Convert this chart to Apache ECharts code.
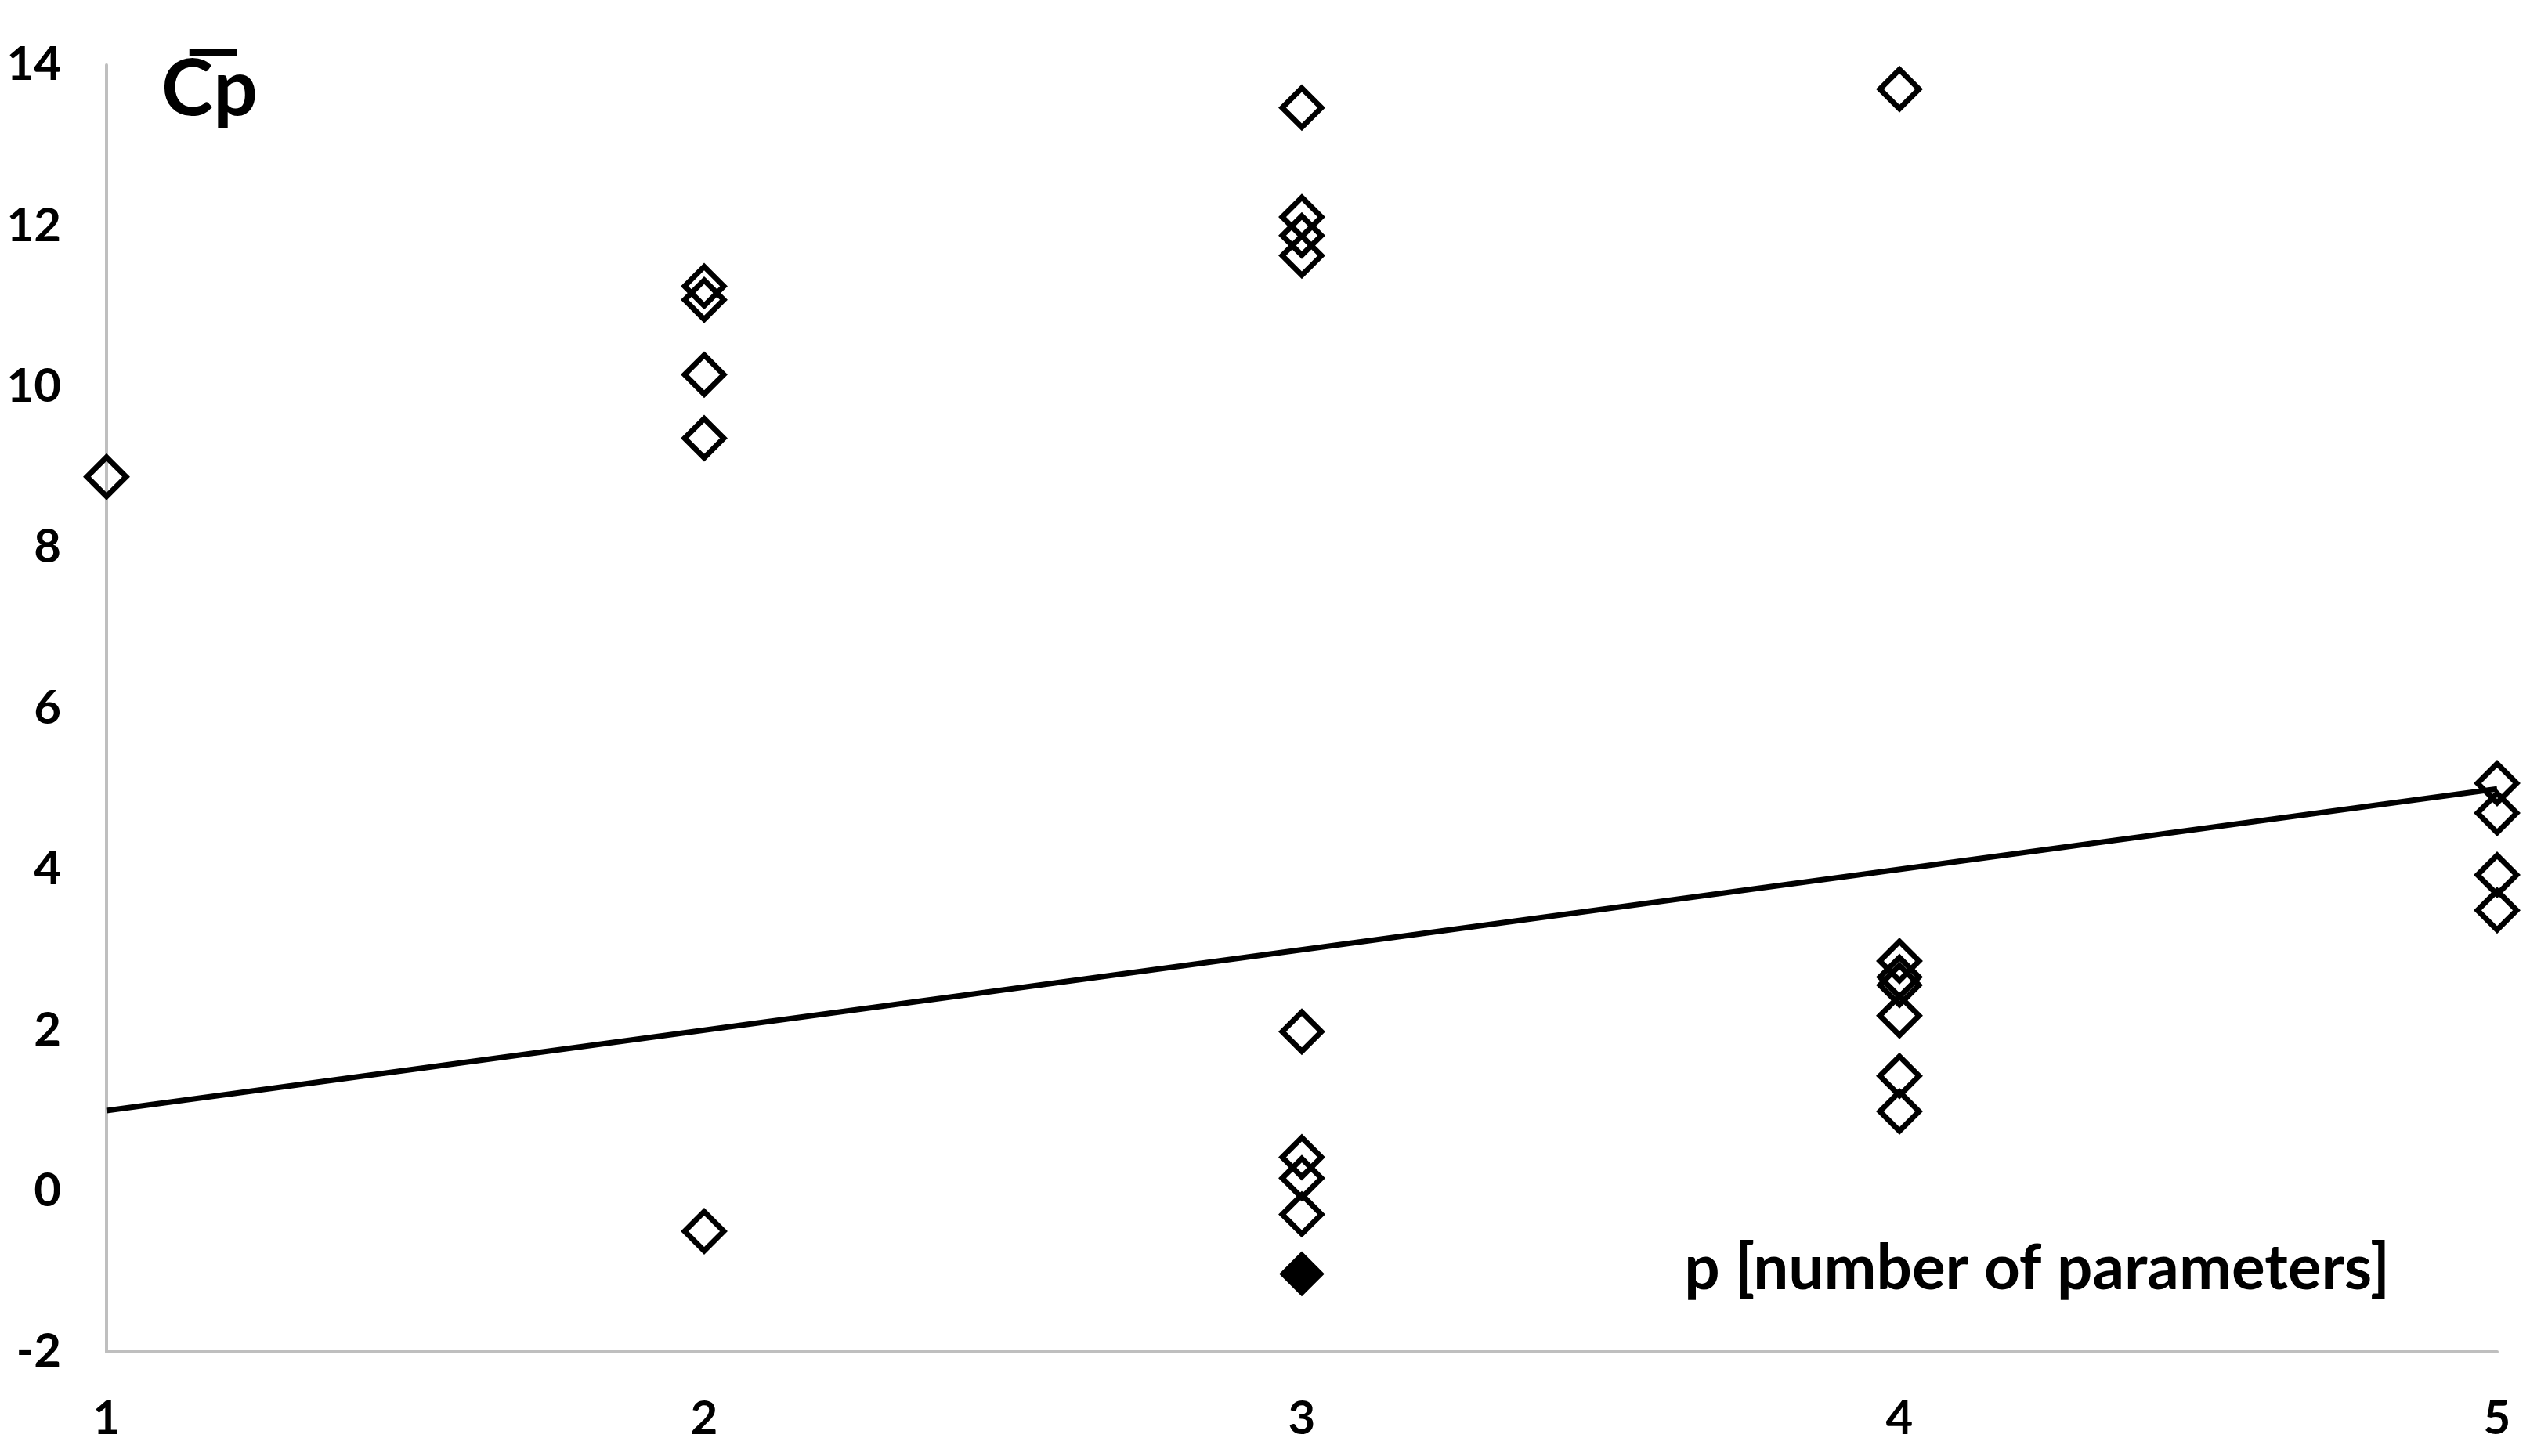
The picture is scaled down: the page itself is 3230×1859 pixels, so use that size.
<!DOCTYPE html>
<html>
<head>
<meta charset="utf-8">
<script src="https://cdn.jsdelivr.net/npm/echarts@6/dist/echarts.min.js"></script>
<style>
  html, body { margin: 0; padding: 0; background: #ffffff; }
  #chart { width: 3230px; height: 1859px; }
</style>
</head>
<body>
<div id="chart"></div>
<script>
// ---- data ----
const xTicks = [1, 2, 3, 4, 5];
const yTickMin = -2, yTickMax = 14, yTickStep = 2;

const cpAtP1 = [8.88];
const cpAtP2 = [11.25, 11.08, 10.15, 9.36, -0.50];
const cpAtP3 = [13.47, 12.11, 11.88, 11.63, 1.98, 0.42, 0.16, -0.29];
const cpAtP4 = [13.70, 2.86, 2.66, 2.56, 2.18, 1.43, 0.99];
const cpAtP5 = [5.07, 4.70, 3.93, 3.49];

const selectedModel = [3, -1.03];          // the filled diamond
const referenceLineP = [1, 5];             // Cp = p line
const referenceLineCp = [1, 5];

const xAxisTitle = 'p [number of parameters]';
const yAxisTitle = 'C\u0305p';

// ---- build series data ----
const groups = [cpAtP1, cpAtP2, cpAtP3, cpAtP4, cpAtP5];
const openPoints = [];
groups.forEach(function (vals, i) {
  vals.forEach(function (v) { openPoints.push([xTicks[i], v]); });
});
const linePoints = referenceLineP.map(function (p, i) { return [p, referenceLineCp[i]]; });

const FONT = 'Lato';
const chart = echarts.init(document.getElementById('chart'), null, { renderer: 'canvas' });
chart.setOption({
  animation: false,
  backgroundColor: '#ffffff',
  grid: { left: 136, right: 42, top: 83, bottom: 133, containLabel: false },
  xAxis: {
    type: 'value',
    min: xTicks[0], max: xTicks[xTicks.length - 1], interval: 1,
    name: xAxisTitle,
    nameLocation: 'end',
    nameGap: -137,
    nameTextStyle: {
      fontFamily: FONT, fontWeight: 'bold', fontSize: 80, color: '#000',
      align: 'right', verticalAlign: 'bottom', padding: [0, 0, 66, 0]
    },
    axisLine: { show: true, onZero: false, lineStyle: { color: '#bfbfbf', width: 4 } },
    axisTick: { show: false },
    splitLine: { show: false },
    axisLabel: { fontFamily: FONT, fontWeight: 'bold', fontSize: 60, color: '#000', margin: 56 }
  },
  yAxis: {
    type: 'value',
    min: yTickMin, max: yTickMax, interval: yTickStep,
    name: yAxisTitle,
    nameLocation: 'end',
    nameGap: -32,
    nameTextStyle: {
      fontFamily: FONT + ', "DejaVu Sans"', fontWeight: 'bold', fontSize: 100, color: '#000',
      align: 'left', verticalAlign: 'middle', padding: [0, 0, 0, 70]
    },
    axisLine: { show: true, onZero: false, lineStyle: { color: '#bfbfbf', width: 4 } },
    axisTick: { show: false },
    splitLine: { show: false },
    axisLabel: { fontFamily: FONT, fontWeight: 'bold', fontSize: 60, color: '#000', margin: 58 }
  },
  series: [
    {
      name: 'Cp = p',
      type: 'line',
      data: linePoints,
      showSymbol: false,
      symbol: 'none',
      lineStyle: { color: '#000', width: 7 },
      z: 2
    },
    {
      name: 'models',
      type: 'scatter',
      data: openPoints,
      symbol: 'diamond',
      symbolSize: 50,
      itemStyle: { color: 'rgba(255,255,255,0)', borderColor: '#000', borderWidth: 7, opacity: 1 },
      z: 3
    },
    {
      name: 'selected',
      type: 'scatter',
      data: [selectedModel],
      symbol: 'diamond',
      symbolSize: 52,
      itemStyle: { color: '#000', borderColor: '#000', borderWidth: 4, opacity: 1 },
      z: 3
    }
  ]
});
</script>
</body>
</html>
